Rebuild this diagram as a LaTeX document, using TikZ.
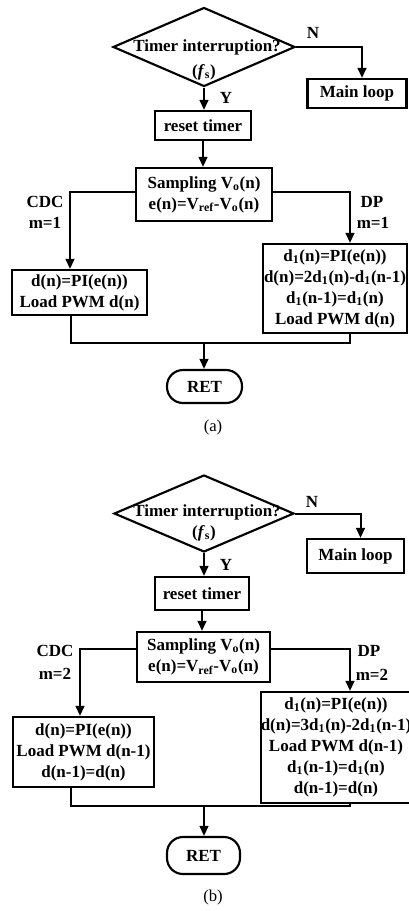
\documentclass[tikz,border=0pt]{standalone}
\usepackage{fontspec}
\setmainfont{Liberation Serif}
\usetikzlibrary{arrows.meta,shapes.geometric}
\begin{document}
\begin{tikzpicture}[x=0.75pt,y=-0.75pt,
  every node/.style={font=\fontsize{12.75}{15.75}\selectfont\bfseries},
  box/.style={draw, line width=1.6pt, inner sep=0pt, align=center},
  dia/.style={draw, shape=diamond, line width=1.6pt, inner sep=0pt},
  term/.style={draw, line width=1.6pt, inner sep=0pt, rounded corners=12pt},
  conn/.style={line width=1.5pt},
  arr/.style={line width=1.5pt, -{Triangle[length=7.5pt,width=6.5pt]}},
  lbl/.style={inner sep=0pt},
  captxt/.style={inner sep=0pt, font=\fontsize{12.5}{15}\selectfont\mdseries}]
\useasboundingbox (0,0) rectangle (408,911);
\fill[white] (0,0) rectangle (408,911);

% ---------------- (a) ----------------
\node[dia, minimum width=136.5pt, minimum height=59.25pt] (dA) at (204,47) {};
\node[lbl] (dAt1) at (207,47) {Timer interruption?};
\node[lbl] (dAt2) at (204,72) {(\textit{f}\textsubscript{s})};
\node[lbl] (nA) at (313,33) {N};
\node[box, minimum width=74.25pt, minimum height=21.75pt] (mlA) at (357,93.5) {Main loop};
\node[lbl] (yA) at (226,98) {Y};
\node[box, minimum width=72pt, minimum height=21.75pt] (rtA) at (203,125.5) {reset timer};
\node[box, minimum width=102pt, minimum height=39.75pt] (spA) at (204,194.5) {Sampling V\textsubscript{o}(n)\\e(n)=V\textsubscript{ref}-V\textsubscript{o}(n)};
\node[lbl] (cdcA) at (45,202) {CDC};
\node[lbl] (m1A) at (45,223) {m=1};
\node[lbl] (dpLA) at (372,202) {DP};
\node[lbl] (m2A) at (373,223) {m=1};
\node[box, minimum width=101.25pt, minimum height=33.75pt] (cbA) at (79.5,292.5) {d(n)=PI(e(n))\\Load PWM d(n)};
\node[box, minimum width=108pt, minimum height=66.75pt] (dbA) at (335,288.5) {d\textsubscript{1}(n)=PI(e(n))\\d(n)=2d\textsubscript{1}(n)-d\textsubscript{1}(n-1)\\d\textsubscript{1}(n-1)=d\textsubscript{1}(n)\\Load PWM d(n)};
\node[term, minimum width=56.25pt, minimum height=24.75pt] (retA) at (204.5,386.5) {RET};
\node[captxt] (capA) at (213,427) {(a)};

\coordinate (xAl) at (70,0);
\coordinate (xAr) at (350,0);
\coordinate (xMl) at (71,0);
\coordinate (jA) at (204,343);
\draw[arr] (dA.east) -| ([xshift=3.75pt]mlA.north);
\draw[arr] (dA.south) -- (dA.south |- rtA.north);
\draw[arr] (rtA.south) -- (rtA.south |- spA.north);
\draw[arr] ([yshift=2.25pt]spA.west) -| (cbA.north -| xAl);
\draw[arr] ([yshift=2.25pt]spA.east) -| (dbA.north -| xAr);
\draw[conn] (cbA.south -| xMl) |- (jA) -| (dbA.south -| xAr);
\draw[arr] (jA) -- (jA |- retA.north);

% ---------------- (b) ----------------
\node[dia, minimum width=135pt, minimum height=57.75pt] (dB) at (204,513.5) {};
\node[lbl] (dBt1) at (207,512) {Timer interruption?};
\node[lbl] (dBt2) at (204,533) {(\textit{f}\textsubscript{s})};
\node[lbl] (nB) at (312,502) {N};
\node[box, minimum width=72.75pt, minimum height=25.5pt] (mlB) at (355.5,556) {Main loop};
\node[lbl] (yB) at (226,565) {Y};
\node[box, minimum width=70.5pt, minimum height=24.75pt] (rtB) at (202,593.5) {reset timer};
\node[box, minimum width=99.75pt, minimum height=37.5pt] (spB) at (203.5,657) {Sampling V\textsubscript{o}(n)\\e(n)=V\textsubscript{ref}-V\textsubscript{o}(n)};
\node[lbl] (cdcB) at (55,651) {CDC};
\node[lbl] (m1B) at (55,674) {m=2};
\node[lbl] (dpLB) at (369,651) {DP};
\node[lbl] (m2B) at (372,675) {m=2};
\node[box, minimum width=105.75pt, minimum height=52.5pt] (cbB) at (83.5,752) {d(n)=PI(e(n))\\Load PWM d(n-1)\\d(n-1)=d(n)};
\node[box, minimum width=111pt, minimum height=83.25pt] (dbB) at (336,747.5) {d\textsubscript{1}(n)=PI(e(n))\\d(n)=3d\textsubscript{1}(n)-2d\textsubscript{1}(n-1)\\Load PWM d(n-1)\\d\textsubscript{1}(n-1)=d\textsubscript{1}(n)\\d(n-1)=d(n)};
\node[term, minimum width=54.75pt, minimum height=27.75pt] (retB) at (203.5,855.5) {RET};
\node[captxt] (capB) at (213,897) {(b)};

\coordinate (xBl) at (80,0);
\coordinate (xBr) at (350,0);
\coordinate (xNl) at (71,0);
\coordinate (jB) at (204,806);
\draw[arr] (dB.east) -| ([xshift=3.75pt]mlB.north);
\draw[arr] (dB.south) -- (dB.south |- rtB.north);
\draw[arr] (rtB.south) -- (rtB.south |- spB.north);
\draw[arr] ([yshift=6pt]spB.west) -| (cbB.north -| xBl);
\draw[arr] ([yshift=6pt]spB.east) -| (dbB.north -| xBr);
\draw[conn] (cbB.south -| xNl) |- (jB) -| (dbB.south -| xBr);
\draw[arr] (jB) -- (jB |- retB.north);
\end{tikzpicture}
\end{document}
